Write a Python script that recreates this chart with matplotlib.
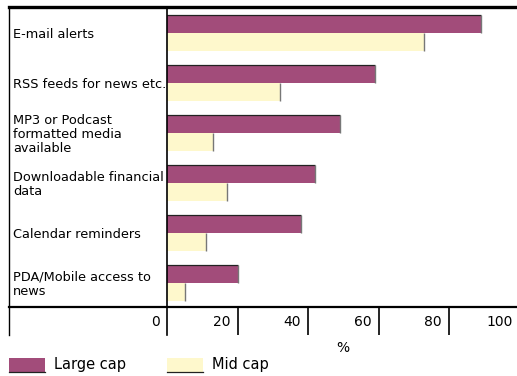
import matplotlib
matplotlib.use("Agg")
import numpy as np
import matplotlib.pyplot as plt
from matplotlib.lines import Line2D
from matplotlib.patches import Rectangle
import matplotlib.transforms as mtransforms

categories = [
    "E-mail alerts",
    "RSS feeds for news etc.",
    "MP3 or Podcast\nformatted media\navailable",
    "Downloadable financial\ndata",
    "Calendar reminders",
    "PDA/Mobile access to\nnews",
]
large_cap = [89, 59, 49, 42, 38, 20]
mid_cap = [73, 32, 13, 17, 11, 5]
x_ticks = [0, 20, 40, 60, 80, 100]

PURPLE = "#a24c7a"
YELLOW = "#fef8cc"

W, H = 517, 376


def fx(px):
    return px / W


def fy(py):
    return 1 - py / H


def main():
    plt.rcParams["font.family"] = "DejaVu Sans"
    fig = plt.figure(figsize=(W / 100, H / 100), dpi=100)
    ax = fig.add_axes([fx(167), fy(307), 1 - fx(167), fy(7) - fy(307)])

    y = np.arange(len(categories)) + 0.5
    h = 0.36
    ax.barh(y - h / 2 + 0.02, large_cap, height=h, color=PURPLE, linewidth=0)
    ax.barh(y + h / 2 + 0.02, mid_cap, height=h, color=YELLOW, linewidth=0)

    # thin shading on bar edges
    ax.hlines(y - h + 0.02, 0, large_cap, color="#222222", linewidth=0.9)
    ax.vlines(large_cap, y - h + 0.02, y + 0.02, color="#777777", linewidth=1.0)
    ax.vlines(mid_cap, y + 0.02, y + h + 0.02, color="#777777", linewidth=1.0)

    ax.set_xlim(0, 350 / 3.525)
    ax.set_ylim(len(categories), 0)
    for s in ax.spines.values():
        s.set_visible(False)
    ax.set_yticks([])
    ax.set_xticks(x_ticks[1:-1])
    ax.tick_params(axis="x", direction="out", length=20, width=1.2,
                   color="black", labelbottom=False)

    # tick labels sit to the left of each tick line
    trans = mtransforms.blended_transform_factory(ax.transData, ax.transAxes)
    for t in x_ticks:
        ax.text(t - 2, -0.05, str(t), transform=trans, ha="right", va="center",
                fontsize=10)
    ax.text(50, -0.137, "%", transform=trans, ha="center", va="center", fontsize=10)

    # category labels at left
    ytrans = mtransforms.blended_transform_factory(fig.transFigure, ax.transData)
    for yi, lab in zip(y, categories):
        ax.text(fx(13), yi + 0.05, lab, transform=ytrans, ha="left", va="center",
                fontsize=9.3, linespacing=1.12)

    # frame lines
    fig.add_artist(Line2D([fx(9), 1], [fy(7), fy(7)], color="black", linewidth=2.4))
    fig.add_artist(Line2D([fx(9), 1], [fy(307), fy(307)], color="black", linewidth=1.6))
    fig.add_artist(Line2D([fx(9), fx(9)], [fy(7), fy(335)], color="black", linewidth=1.0))
    fig.add_artist(Line2D([fx(167), fx(167)], [fy(7), fy(335)], color="black", linewidth=1.2))

    # legend
    for x0, col, lab in [(9, PURPLE, "Large cap"), (167, YELLOW, "Mid cap")]:
        fig.add_artist(Rectangle((fx(x0), fy(372)), fx(36), fy(358) - fy(372),
                                 transform=fig.transFigure, facecolor=col, linewidth=0))
        fig.add_artist(Line2D([fx(x0), fx(x0 + 36)], [fy(372), fy(372)],
                              color="#222222", linewidth=0.9))
        fig.text(fx(x0 + 45), fy(365), lab, ha="left", va="center", fontsize=10.5)

    fig.savefig("out.png", dpi=100)


if __name__ == "__main__":
    main()
